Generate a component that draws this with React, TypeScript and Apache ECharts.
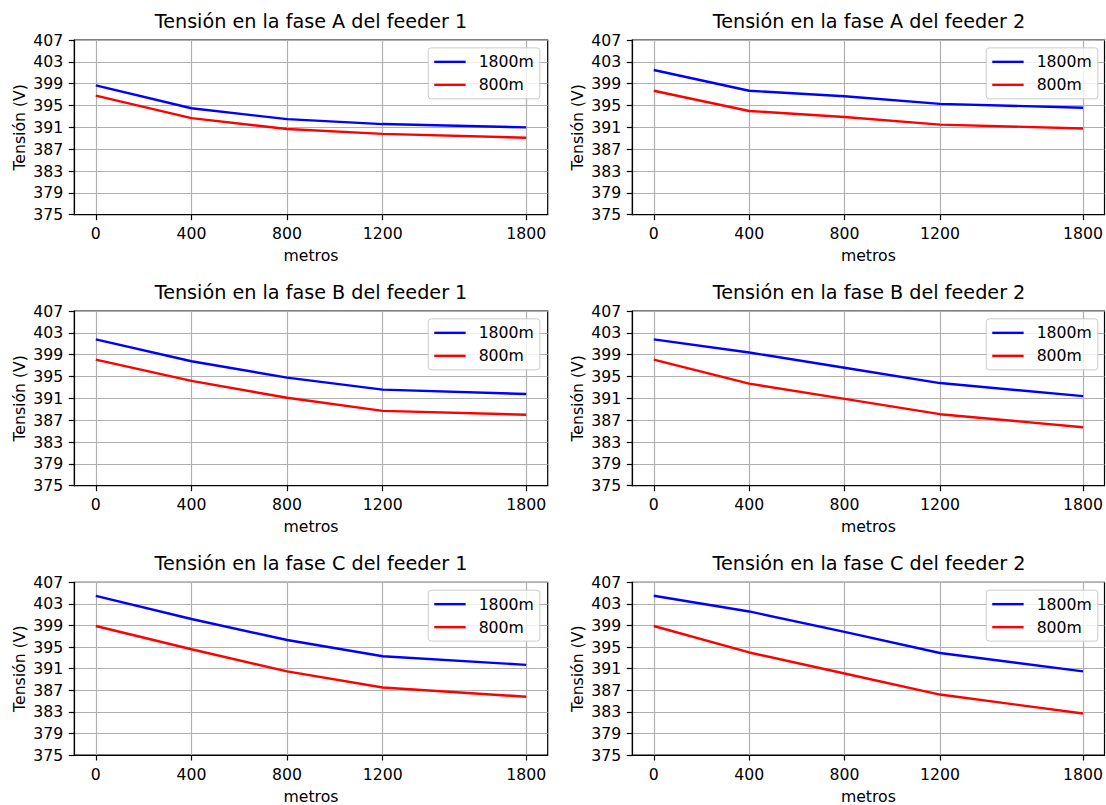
import React, { useEffect, useRef } from "react";
import * as echarts from "echarts";

const xTicks = [0, 400, 800, 1200, 1800];
const yTicks = [375, 379, 383, 387, 391, 395, 399, 403, 407];
const seriesNames = ["1800m", "800m"];
const seriesColors = ["#0000ff", "#ff0000"];

const titles = [
  "Tensión en la fase A del feeder 1",
  "Tensión en la fase A del feeder 2",
  "Tensión en la fase B del feeder 1",
  "Tensión en la fase B del feeder 2",
  "Tensión en la fase C del feeder 1",
  "Tensión en la fase C del feeder 2",
];

const faseA_f1_1800 = [398.7, 394.5, 392.5, 391.6, 391.0];
const faseA_f1_800 = [396.8, 392.7, 390.7, 389.8, 389.1];
const faseA_f2_1800 = [401.5, 397.7, 396.7, 395.3, 394.6];
const faseA_f2_800 = [397.7, 394.0, 392.9, 391.5, 390.8];
const faseB_f1_1800 = [401.8, 397.8, 394.8, 392.6, 391.8];
const faseB_f1_800 = [398.1, 394.2, 391.1, 388.7, 388.0];
const faseB_f2_1800 = [401.8, 399.4, 396.6, 393.8, 391.4];
const faseB_f2_800 = [398.1, 393.7, 390.9, 388.1, 385.7];
const faseC_f1_1800 = [404.5, 400.2, 396.3, 393.3, 391.7];
const faseC_f1_800 = [398.9, 394.6, 390.5, 387.5, 385.8];
const faseC_f2_1800 = [404.5, 401.6, 397.8, 393.9, 390.5];
const faseC_f2_800 = [398.9, 394.0, 390.1, 386.2, 382.7];

const panels = [
  [faseA_f1_1800, faseA_f1_800],
  [faseA_f2_1800, faseA_f2_800],
  [faseB_f1_1800, faseB_f1_800],
  [faseB_f2_1800, faseB_f2_800],
  [faseC_f1_1800, faseC_f1_800],
  [faseC_f2_1800, faseC_f2_800],
];

const FONT = "DejaVu Sans";
const FS = 15.7;

export default function App() {
  const ref = useRef<HTMLDivElement>(null);

  useEffect(() => {
    document.body.style.margin = "0";
    if (!ref.current) return;
    const chart = echarts.init(ref.current, null, { renderer: "svg" });

    const colLeft = [74.3, 632.3];
    const gridW = 473.4;
    const rowTop = [40, 311, 582.3];
    const gridH = 174.7;
    const W = 1106;

    const grids: any[] = [];
    const xAxes: any[] = [];
    const yAxes: any[] = [];
    const series: any[] = [];
    const titleArr: any[] = [];
    const legends: any[] = [];

    panels.forEach((pdata, i) => {
      const r = Math.floor(i / 2);
      const c = i % 2;
      const left = colLeft[c];
      const top = rowTop[r];
      grids.push({
        left,
        top,
        width: gridW,
        height: gridH,
        show: true,
        borderColor: "#000",
        borderWidth: 1.2,
        backgroundColor: "transparent",
        containLabel: false,
      });
      xAxes.push({
        type: "value",
        gridIndex: i,
        min: -90,
        max: 1890,
        name: "metros",
        nameLocation: "middle",
        nameGap: 33,
        nameTextStyle: { fontFamily: FONT, fontSize: FS, color: "#000" },
        axisLine: { show: true, onZero: false, lineStyle: { color: "#000", width: 1.2 } },
        axisTick: { show: true, length: 5.5, inside: false, lineStyle: { color: "#000", width: 1.2 }, customValues: xTicks },
        axisLabel: {
          fontFamily: FONT,
          fontSize: FS,
          color: "#000",
          margin: 11,
          customValues: xTicks,
          formatter: (v: number) => String(v),
        },
        splitLine: { show: true, lineStyle: { color: "#b0b0b0", width: 1.2 } },
      });
      yAxes.push({
        type: "value",
        gridIndex: i,
        min: 375,
        max: 407,
        name: "Tensión (V)",
        nameLocation: "middle",
        nameGap: 47,
        nameRotate: 90,
        nameTextStyle: { fontFamily: FONT, fontSize: FS, color: "#000" },
        axisLine: { show: true, onZero: false, lineStyle: { color: "#000", width: 1.2 } },
        axisTick: { show: true, length: 5.5, inside: false, lineStyle: { color: "#000", width: 1.2 }, customValues: yTicks },
        axisLabel: {
          fontFamily: FONT,
          fontSize: FS,
          color: "#000",
          margin: 11,
          customValues: yTicks,
          formatter: (v: number) => String(v),
        },
        splitLine: { show: true, lineStyle: { color: "#b0b0b0", width: 1.2 } },
      });
      pdata.forEach((vals, k) => {
        series.push({
          type: "line",
          name: seriesNames[k],
          xAxisIndex: i,
          yAxisIndex: i,
          data: xTicks.map((x, j) => [x, vals[j]]),
          showSymbol: false,
          symbol: "none",
          lineStyle: { color: seriesColors[k], width: 2.4 },
          itemStyle: { color: seriesColors[k] },
          z: 3,
        });
      });
      titleArr.push({
        text: titles[i],
        left: left + gridW / 2,
        top: top - 28,
        textAlign: "center",
        padding: 0,
        textStyle: { fontFamily: FONT, fontSize: 19.2, fontWeight: "normal", color: "#000" },
      });
      const boxRight = left + gridW - 7.85;
      legends.push({
        data: seriesNames,
        orient: "vertical",
        right: W - boxRight,
        top: top + 7.85,
        backgroundColor: "rgba(255,255,255,0.8)",
        borderColor: "#cccccc",
        borderWidth: 1,
        borderRadius: 3,
        padding: [6, 6, 6, 6],
        itemWidth: 31.4,
        itemHeight: 2.4,
        itemGap: 7,
        icon: "rect",
        selectedMode: false,
        textStyle: { fontFamily: FONT, fontSize: FS, color: "#000", lineHeight: 16, padding: [0, 0, 0, 8] },
      });
    });

    chart.setOption({
      animation: false,
      backgroundColor: "#fff",
      title: titleArr,
      legend: legends,
      grid: grids,
      xAxis: xAxes,
      yAxis: yAxes,
      series,
    });

    return () => chart.dispose();
  }, []);

  return <div ref={ref} style={{ width: 1106, height: 805 }} />;
}
